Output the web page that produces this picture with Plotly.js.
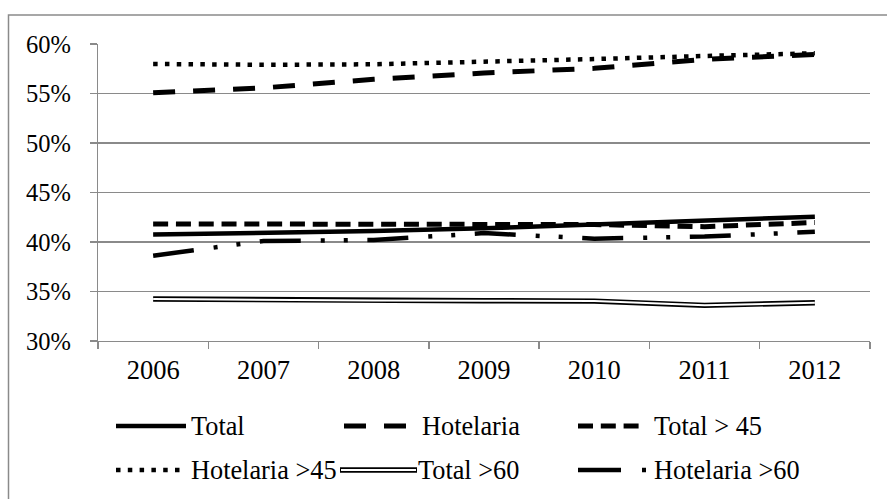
<!DOCTYPE html>
<html>
<head>
<meta charset="utf-8">
<script src="https://cdn.plot.ly/plotly-3.0.1.min.js"></script>
<style>
html,body{margin:0;padding:0;background:#fff;}
#chart{width:887px;height:499px;}
</style>
</head>
<body>
<div id="chart"></div>
<script>
// ---- data ----
const years = ["2006","2007","2008","2009","2010","2011","2012"];
const total          = [40.76, 40.9, 41.1, 41.38, 41.75, 42.1, 42.55];
const hotelaria      = [55.08, 55.57, 56.43, 57.07, 57.54, 58.45, 58.95];
const total45        = [41.83, 41.8, 41.76, 41.85, 41.76, 41.55, 41.97];
const hotelaria45    = [57.98, 57.9, 57.95, 58.18, 58.48, 58.79, 59.06];
const total60        = [34.24, 34.15, 34.1, 34.07, 34.03, 33.6, 33.87];
const hotelaria60    = [38.62, 40.1, 40.2, 40.9, 40.34, 40.55, 41.03];
const seriesNames = ["Total", "Hotelaria", "Total > 45", "Hotelaria >45", "Total >60", "Hotelaria >60"];
const yTicks = [30, 35, 40, 45, 50, 55, 60];

// ---- geometry (plot area in px) ----
const W = 887, H = 499;
const L = 98, R = 870, T = 44, B = 341;
const px = v => (v - L) / (R - L);
const py = v => (B - v) / (B - T);

const FONT = "'Liberation Serif', 'Times New Roman', serif";
const GRAY = "#8a8a8a";

const styles = {
  total:   {color: "#000", width: 4.5, dash: "solid"},
  hot:     {color: "#000", width: 5, dash: "22px,18px"},
  t45:     {color: "#000", width: 5, dash: "15px,7.8px"},
  h45:     {color: "#000", width: 4.5, dash: "4.5px,7.3px"},
  t60o:    {color: "#000", width: 5.4, dash: "solid"},
  t60i:    {color: "#fff", width: 2, dash: "solid"},
  h60:     {color: "#000", width: 4.5, dash: "41px,20px,4px,19px,4px,19.6px"}
};

function tr(y, name, st) {
  return {x: years, y: y, name: name, type: "scatter", mode: "lines",
          line: Object.assign({}, st), showlegend: false, hoverinfo: "x+y+name"};
}

const data = [
  tr(total, seriesNames[0], styles.total),
  tr(hotelaria, seriesNames[1], styles.hot),
  tr(total45, seriesNames[2], styles.t45),
  tr(hotelaria45, seriesNames[3], styles.h45),
  tr(total60, seriesNames[4], styles.t60o),
  tr(total60, seriesNames[4], styles.t60i),
  tr(hotelaria60, seriesNames[5], styles.h60)
];

// ---- manual legend ----
const shapes = [];
const annotations = [];
// chart frame
shapes.push({type: "rect", xref: "paper", yref: "paper", layer: "below",
  x0: px(8.5), x1: px(W + 20), y0: py(H + 20), y1: py(15),
  line: {color: GRAY, width: 1.5}, fillcolor: "rgba(0,0,0,0)"});

const LEGFS = 26.3;
function legLine(x0, x1, y, st) {
  shapes.push({type: "line", xref: "paper", yref: "paper",
    x0: px(x0), x1: px(x1), y0: py(y), y1: py(y),
    line: {color: st.color, width: st.width, dash: st.dash}});
}
function legText(x, y, t) {
  annotations.push({xref: "paper", yref: "paper", x: px(x), y: py(y), text: t,
    showarrow: false, xanchor: "left", yanchor: "middle",
    font: {family: FONT, size: LEGFS, color: "#000"}, borderpad: 0});
}
const r1 = 426, r2 = 470;
legLine(116, 186, r1, styles.total);     legText(190, r1, seriesNames[0]);
legLine(344, 406, r1, styles.hot);       legText(421, r1, seriesNames[1]);
legLine(578, 640, r1, styles.t45);       legText(653, r1, seriesNames[2]);
legLine(116, 180, r2, styles.h45);       legText(190, r2, seriesNames[3]);
legLine(340, 417, r2, styles.t60o);
legLine(341, 416, r2, styles.t60i);      legText(417, r2, seriesNames[4]);
legLine(578, 650, r2, {color: "#000", width: 4.5, dash: "43px,21px,4px,40px"});
legText(653, r2, seriesNames[5]);

const layout = {
  width: W, height: H,
  margin: {l: L, r: W - R, t: T, b: H - B, pad: 0},
  paper_bgcolor: "#fff", plot_bgcolor: "#fff",
  font: {family: FONT, size: 24, color: "#000"},
  showlegend: false,
  xaxis: {type: "category", range: [-0.5, 6.5], tickson: "boundaries", ticks: "outside", ticklen: 7,
    tickcolor: GRAY, tickwidth: 1.3, showline: true, linecolor: GRAY, linewidth: 1.3,
    showgrid: false, zeroline: false, tickfont: {family: FONT, size: 26.5, color: "#000"},
    ticklabelstandoff: 5, fixedrange: true},
  yaxis: {range: [30, 60], tickvals: yTicks, ticktext: yTicks.map(v => v + "%"),
    ticks: "outside", ticklen: 7, tickcolor: GRAY, tickwidth: 1.3,
    showline: true, linecolor: GRAY, linewidth: 1.3,
    showgrid: true, gridcolor: GRAY, gridwidth: 1.3, zeroline: false,
    ticklabelstandoff: 14,
    tickfont: {family: FONT, size: 24.5, color: "#000"}, fixedrange: true},
  shapes: shapes,
  annotations: annotations
};

Plotly.newPlot("chart", data, layout, {displayModeBar: false, staticPlot: true});
</script>
</body>
</html>
